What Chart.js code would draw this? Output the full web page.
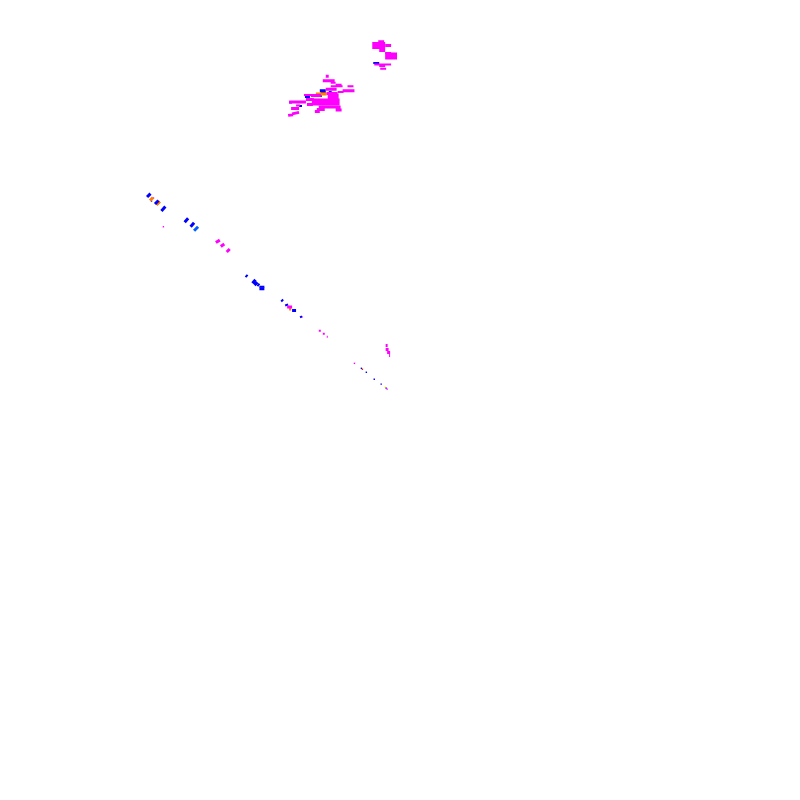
<!DOCTYPE html>
<html>
<head>
<meta charset="utf-8">
<title>Chart</title>
<script src="https://cdn.jsdelivr.net/npm/chart.js@4/dist/chart.umd.js"></script>
<style>
  html, body { margin: 0; padding: 0; background: #fff; }
  canvas { display: block; }
</style>
</head>
<body>
<canvas id="chart" width="800" height="800"></canvas>
<script>
// runs: [x0, y0, x1, y1]
const magentaHeavy = [
  [372, 42, 385, 42], [385, 52.5, 397, 52.5], [311, 99, 339, 99], [327, 94, 338, 94]
];
const magentaMedium = [
  [385, 42, 391, 42], [379, 47, 385, 47], [322, 77.5, 334, 77.5], [325, 86, 336, 86],
  [335, 82, 341, 82], [342, 87.5, 354, 87.5], [326, 90.5, 337, 90.5], [318, 104, 340, 104],
  [316, 106.5, 324, 106.5], [335, 107, 341, 107], [314, 108.5, 319, 108.5], [306, 101.5, 312, 101.5],
  [310, 92.5, 320, 92.5], [305, 96.5, 313, 96.5], [288, 99, 305, 99], [290, 105.5, 298, 105.5],
  [287, 112.5, 292, 112], [291, 111, 298, 109.5], [325, 73, 328, 73], [214, 241, 218, 238.5],
  [219, 245, 222.5, 242.5], [225, 250.5, 228, 247.5], [286, 306, 291, 306],
  [385.5, 345, 387.5, 345], [385.5, 349, 388.5, 349], [387, 352, 390, 352], [389, 355, 390, 355]
];
const magentaLight = [
  [378, 37.5, 384, 37.5], [385, 49.5, 391, 49.5], [374, 61, 391, 61], [379, 62.5, 385, 62.5],
  [380, 65.5, 386, 65.5], [330, 79.5, 335, 79.5], [330, 83, 342, 83], [347, 83, 353, 83],
  [337, 89, 343, 89], [303, 92, 311, 92], [295, 102.5, 299, 102.5], [318, 330, 320, 330],
  [322, 333, 324, 333], [326, 336, 327, 336]
];
const blueMedium = [
  [319, 87.5, 325, 87.5], [304, 93.5, 309, 93.5], [144.5, 195, 148, 191.5], [152.5, 202, 156, 198.5],
  [159, 209, 163, 204.5], [182.5, 220.5, 186, 216.5], [188.5, 225, 192, 221], [251, 282, 254, 278.5],
  [253, 284, 256, 281], [258, 287.5, 263, 287.5], [291, 309.5, 295, 309.5]
];
const blueLight = [
  [373, 59.5, 379, 59.5], [328, 89, 331, 89], [326, 90.5, 332, 90.5], [318, 93, 321, 93],
  [298, 103, 301, 103], [288, 99.5, 291, 99.5], [244, 276, 246, 273.5], [256, 285, 258, 282.5],
  [280, 300.5, 282, 298.5], [284, 304.5, 287, 303.5], [299, 316.5, 301, 315.5], [258, 285.5, 263, 285.5]
];
const orangeMedium = [
  [315, 91, 326, 91], [147.5, 198.5, 150.5, 195.5], [154, 203, 157.5, 199.5], [288, 308, 290, 308]
];
const redLight = [[320, 89.5, 325, 89.5], [155, 201, 157, 199]];
const skyMedium = [[192, 229, 196, 225]];

// single marks: x and y
const magentaDotsX = [151, 161, 354, 387, 293, 301];
const magentaDotsY = [196, 225, 363, 389, 309, 316];
const blueDotsX = [361, 366, 374, 381, 386, 149];
const blueDotsY = [368, 372, 379, 384, 388, 199];
const redDotsX = [362];
const redDotsY = [369];
const yellowDotsX = [385, 322];
const yellowDotsY = [387, 90];

function runs(list) {
  // a null point breaks the line between two runs
  return list.flatMap(r => [{x: r[0], y: r[1]}, {x: r[2], y: r[3]}, {x: null, y: null}]);
}

function lineSet(list, color, width) {
  return {
    data: runs(list),
    showLine: true,
    spanGaps: false,
    borderColor: color,
    borderWidth: width,
    borderCapStyle: 'butt',
    pointRadius: 0
  };
}

function dotSet(xs, ys, color) {
  return {
    data: xs.map((x, i) => ({x: x, y: ys[i]})),
    pointStyle: 'rect',
    pointRadius: 1,
    backgroundColor: color,
    borderWidth: 0
  };
}

new Chart(document.getElementById('chart'), {
  type: 'scatter',
  data: {
    datasets: [
      lineSet(magentaHeavy, '#ff00ff', 7),
      lineSet(magentaMedium, '#ff00ff', 3),
      lineSet(magentaLight, '#ff00ff', 2),
      lineSet(blueMedium, '#0000ff', 3),
      lineSet(orangeMedium, '#ff8000', 3),
      lineSet(blueLight, '#0000ff', 2),
      lineSet(redLight, '#ff2000', 2),
      lineSet(skyMedium, '#0060ff', 3),
      dotSet(magentaDotsX, magentaDotsY, '#ff00ff'),
      dotSet(blueDotsX, blueDotsY, '#0000ff'),
      dotSet(redDotsX, redDotsY, '#ff2000'),
      dotSet(yellowDotsX, yellowDotsY, '#ffff00')
    ]
  },
  options: {
    responsive: false,
    animation: false,
    devicePixelRatio: 1,
    layout: { padding: 0 },
    plugins: { legend: { display: false }, tooltip: { enabled: false } },
    scales: {
      x: { type: 'linear', min: 0, max: 800, display: false },
      y: { type: 'linear', min: 0, max: 800, reverse: true, display: false }
    }
  }
});
</script>
</body>
</html>
